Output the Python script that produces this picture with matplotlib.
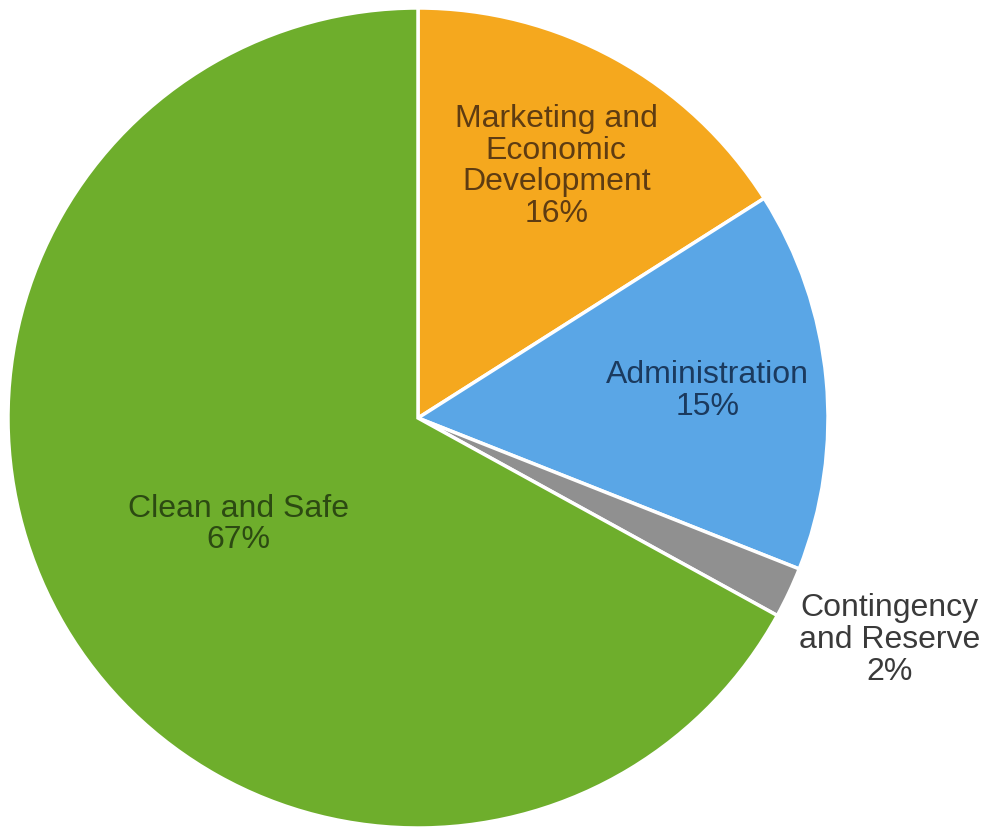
import matplotlib
matplotlib.use('Agg')
import matplotlib.pyplot as plt
import numpy as np

# slice data, clockwise from 12 o'clock
labels = ['Marketing and\nEconomic\nDevelopment', 'Administration',
          'Contingency\nand Reserve', 'Clean and Safe']
shares = [16, 15, 2, 67]
colors = ['#f5a81e', '#5aa6e6', '#909090', '#6eae2c']
text_colors = ['#5e3c12', '#1b3a5e', '#3a3a3a', '#2c4a12']
label_r = [0.70, 0.71, 1.27, 0.51]

W, H = 983, 832
fig = plt.figure(figsize=(W / 100, H / 100), dpi=100)
ax = fig.add_axes([0, 0, 1, 1])

cx, cy, R = 418, H - 418, 410
wedges, _ = ax.pie(shares, colors=colors, startangle=90, counterclock=False,
                   center=(cx, cy), radius=R, frame=True,
                   wedgeprops=dict(edgecolor='white', linewidth=2.5))
ax.set_xlim(0, W)
ax.set_ylim(0, H)
ax.set_aspect('equal')
ax.axis('off')

for w, lab, s, tc, lr in zip(wedges, labels, shares, text_colors, label_r):
    mid = np.deg2rad((w.theta1 + w.theta2) / 2)
    x = cx + R * lr * np.cos(mid)
    y = cy + R * lr * np.sin(mid)
    ax.text(x, y, f'{lab}\n{s}%', ha='center', va='center', color=tc,
            fontsize=23, family='Liberation Sans', linespacing=1.08)

fig.savefig('out.png', dpi=100)
